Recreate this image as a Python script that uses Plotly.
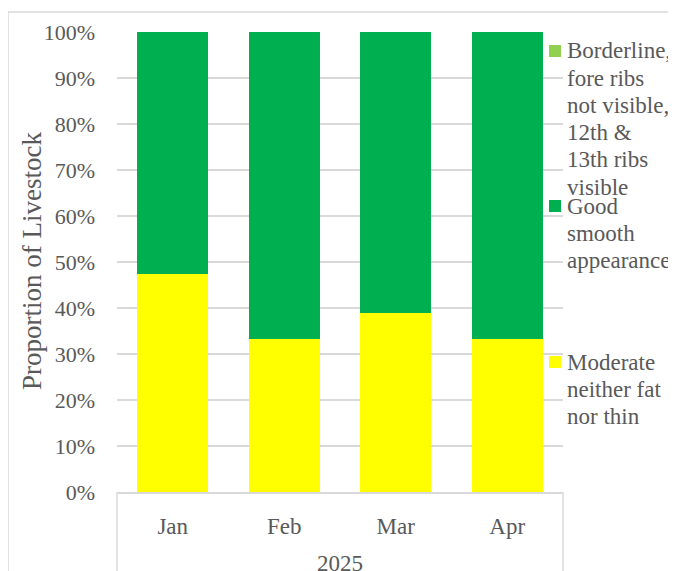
import plotly.graph_objects as go

months = ["Jan", "Feb", "Mar", "Apr"]
year_label = "2025"
moderate = [47.4, 33.3, 38.9, 33.3]
good = [52.6, 66.7, 61.1, 66.7]
borderline = [0, 0, 0, 0]
y_ticks = [0, 10, 20, 30, 40, 50, 60, 70, 80, 90, 100]
y_tick_text = [f"{v}%" for v in y_ticks]

series_names = {
    "borderline": ["Borderline,", "fore ribs", "not visible,", "12th &", "13th ribs", "visible"],
    "good": ["Good", "smooth", "appearance"],
    "moderate": ["Moderate", "neither fat", "nor thin"],
}

FONT = "Liberation Serif, Times New Roman, serif"
TXT = "#595959"
GRID = "#d9d9d9"
C_MOD = "#FFFF00"
C_GOOD = "#00B050"
C_BORD = "#92D050"

OFF = 8  # page body margin: screen = figure + OFF
W, H = 676 - OFF, 571 - OFF
# plot area in screen pixels
L, R, T, B = 117, 563, 32, 492
pw, ph = R - L, B - T


def px(x):
    return (x - L) / pw


def py(y):
    return (B - y) / ph


fig = go.Figure()
fig.add_trace(go.Bar(x=months, y=moderate, name=" ".join(series_names["moderate"]),
                     marker=dict(color=C_MOD, line=dict(width=0))))
fig.add_trace(go.Bar(x=months, y=good, name=" ".join(series_names["good"]),
                     marker=dict(color=C_GOOD, line=dict(width=0))))
fig.add_trace(go.Bar(x=months, y=borderline, name=" ".join(series_names["borderline"]),
                     marker=dict(color=C_BORD, line=dict(width=0))))

shapes = []
# outer chart border (cropped on right/bottom)
shapes.append(dict(type="rect", xref="paper", yref="paper",
                   x0=px(8), x1=px(720), y0=py(620), y1=py(12),
                   line=dict(color=GRID, width=1.5), layer="below"))
# category box verticals
for xv in (0, 1):
    shapes.append(dict(type="line", xref="paper", yref="paper",
                       x0=xv, x1=xv, y0=0, y1=py(620),
                       line=dict(color=GRID, width=1.5)))

annotations = []
annotations.append(dict(text=year_label, xref="paper", yref="paper", x=0.5, y=py(563),
                        xanchor="center", yanchor="middle", showarrow=False,
                        font=dict(family=FONT, size=23, color=TXT)))
annotations.append(dict(text="Proportion of Livestock", xref="paper", yref="paper",
                        x=px(32), y=py(261), textangle=-90, xanchor="center", yanchor="middle",
                        showarrow=False, font=dict(family=FONT, size=27, color=TXT)))

legend_items = [
    ("borderline", C_BORD, 51),
    ("good", C_GOOD, 206),
    ("moderate", C_MOD, 362),
]
line_step = 27.2
for key, col, y0 in legend_items:
    shapes.append(dict(type="rect", xref="paper", yref="paper",
                       x0=px(549), x1=px(561), y0=py(y0 - 6 + 12), y1=py(y0 - 6),
                       fillcolor=col, line=dict(width=0)))
    for i, line in enumerate(series_names[key]):
        annotations.append(dict(text=line, xref="paper", yref="paper",
                                x=px(565), y=py(y0 + i * line_step),
                                xanchor="left", yanchor="middle", showarrow=False,
                                font=dict(family=FONT, size=23, color=TXT)))

fig.update_layout(
    width=W, height=H,
    barmode="stack",
    bargap=0.36,
    showlegend=False,
    paper_bgcolor="white", plot_bgcolor="white",
    margin=dict(l=L - OFF, r=W - (R - OFF), t=T - OFF, b=H - (B - OFF), pad=0),
    font=dict(family=FONT, size=23, color=TXT),
    shapes=shapes,
    annotations=annotations,
    xaxis=dict(showgrid=False, showline=True, linecolor=GRID, linewidth=1.5,
               ticks="", ticklabelstandoff=13,
               tickfont=dict(family=FONT, size=23, color=TXT)),
    yaxis=dict(range=[0, 100], tickmode="array", tickvals=y_ticks, ticktext=y_tick_text,
               showgrid=True, gridcolor=GRID, gridwidth=1.5,
               zeroline=False, showline=False, ticks="", ticklabelstandoff=21,
               tickfont=dict(family=FONT, size=22, color=TXT)),
)

fig.write_html("out.html")
